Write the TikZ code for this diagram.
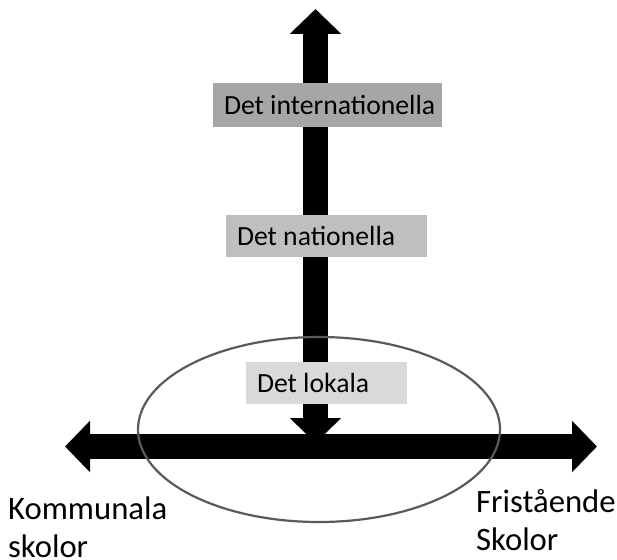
\documentclass[tikz,border=0pt]{standalone}
\usepackage{fontspec}
\setmainfont{Carlito}
\usetikzlibrary{arrows.meta}
\definecolor{gintl}{HTML}{A6A6A6}
\definecolor{gnat}{HTML}{BFBFBF}
\definecolor{glok}{HTML}{D9D9D9}
\definecolor{ellgray}{HTML}{5A5A5A}
\tikzset{
  bigarrow/.style={line width=25pt, black,
    arrows={Triangle[length=25pt,width=50pt]-Triangle[length=25pt,width=50pt]}},
  levelbox/.style={inner xsep=11pt, inner ysep=0pt, minimum height=#1, align=flush left,
    font=\fontsize{27.7}{32}\selectfont},
  sidelabel/.style={inner sep=0pt, align=left, font=\fontsize{32.7}{38}\selectfont},
}
\begin{document}
\begin{tikzpicture}[x=1pt,y=-1pt]
\useasboundingbox (0,0) rectangle (617,559);
\coordinate (vtop) at (315.5,9);
\coordinate (vbot) at (315.5,443);
\coordinate (hleft) at (65,446.5);
\coordinate (hright) at (597,446.5);
\draw[bigarrow] (vbot) -- (vtop);
\draw[bigarrow] (hleft) -- (hright);
\node[levelbox=44pt, fill=gintl, text width=207pt] (intl) at (327.5,105) {\mbox{Det internationella}};
\node[levelbox=42pt, fill=gnat, text width=179pt] (nat) at (326.5,236) {\mbox{Det nationella}};
\node[levelbox=42pt, fill=glok, text width=139pt] (lok) at (326.5,383) {\mbox{Det lokala}};
\draw[ellgray, line width=2.2pt] (319,429.5) ellipse [x radius=181, y radius=92.5];
\node[sidelabel, anchor=base west] (komm) at (8,557) {Kommunala\\skolor};
\node[sidelabel, anchor=base west] (fri) at (476,550) {Fristående\\Skolor};
\end{tikzpicture}
\end{document}
